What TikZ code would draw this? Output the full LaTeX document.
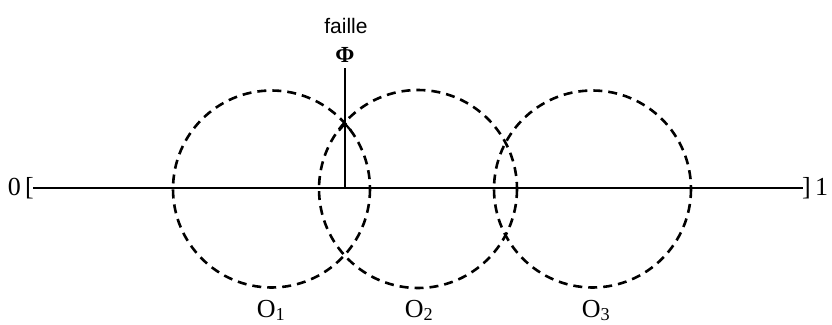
\documentclass[tikz,border=0pt]{standalone}
\usepackage{fontspec}
\setmainfont{Liberation Serif}
\newfontfamily\labelsans{Liberation Sans}
\usetikzlibrary{arrows.meta}
\tikzset{
  axisline/.style={line width=2.8pt},
  zone/.style={line width=2.6pt, dash pattern=on 9pt off 6pt},
  lbl/.style={inner sep=0pt, font=\fontsize{26}{28}\selectfont},
}
\begin{document}
\begin{tikzpicture}[x=1pt,y=-1pt]
\useasboundingbox (0,0) rectangle (832,324);
% main axis
\coordinate (L) at (33,188);
\coordinate (R) at (803,188);
\draw[axisline] (L) -- (R);
\node[lbl, anchor=base east] (zero) at (34,195) {0\,[};
\node[lbl, anchor=base west] (one) at (802,195) {]\,1};
% circles
\coordinate (c1) at (271.5,189);
\coordinate (c2) at (418,189);
\coordinate (c3) at (592.5,189);
\draw[zone] (c1) circle[radius=98.5];
\draw[zone] (c2) circle[radius=99];
\draw[zone] (c3) circle[radius=98.5];
% fault
\coordinate (fb) at (345,188);
\coordinate (fm) at (345,122);
\coordinate (ft) at (345,68);
\draw[axisline, -{Straight Barb[length=7pt,width=12pt,line width=2.2pt]}] (fb) -- (fm);
\draw[axisline] (fm) -- (ft);
\node[inner sep=0pt, anchor=base, font=\bfseries\fontsize{23}{25}\selectfont] (phi) at (345,62) {Φ};
\node[inner sep=0pt, anchor=base, font=\labelsans\fontsize{21}{23}\selectfont] (faille) at (346,33) {faille};
% labels
\node[lbl, anchor=base] (o1) at (271,317) {O\textsubscript{1}};
\node[lbl, anchor=base] (o2) at (419,317) {O\textsubscript{2}};
\node[lbl, anchor=base] (o3) at (596,317) {O\textsubscript{3}};
\end{tikzpicture}
\end{document}
